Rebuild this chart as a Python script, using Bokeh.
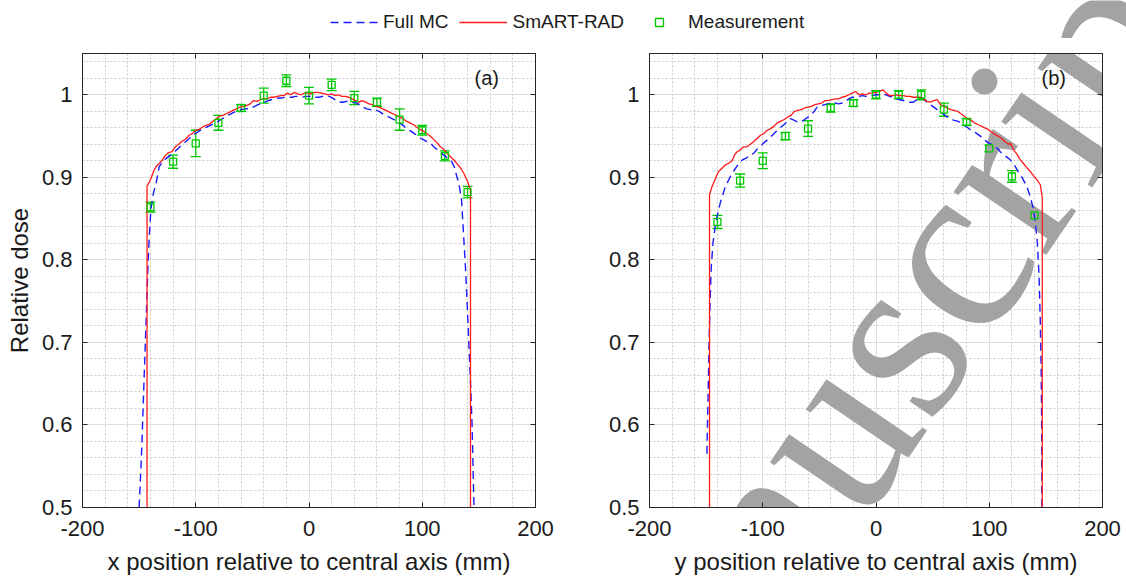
from bokeh.plotting import figure
from bokeh.models import (ColumnDataSource, Whisker, TeeHead, Range1d, FixedTicker,
                          LinearAxis, Legend, LegendItem, CustomJSTickFormatter, Label)
from bokeh.layouts import column, row
from bokeh.embed import file_html
from bokeh.resources import INLINE
from bokeh.core.properties import value

# ---------------- data ----------------
x_ticks = [-200, -100, 0, 100, 200]
y_ticks = [0.5, 0.6, 0.7, 0.8, 0.9, 1.0]
x_minor = [-200, -180, -160, -140, -120, -100, -80, -60, -40, -20, 0,
           20, 40, 60, 80, 100, 120, 140, 160, 180, 200]
y_minor = [0.5, 0.52, 0.54, 0.56, 0.58, 0.6, 0.62, 0.64, 0.66, 0.68, 0.7, 0.72, 0.74,
           0.76, 0.78, 0.8, 0.82, 0.84, 0.86, 0.88, 0.9, 0.92, 0.94, 0.96, 0.98, 1.0,
           1.02, 1.04]

meas_x = [-140, -120, -100, -80, -60, -40, -20, 0, 20, 40, 60, 80, 100, 120, 140]
meas_a = [0.864, 0.919, 0.941, 0.966, 0.984, 0.999, 1.017, 0.999, 1.012, 0.996,
          0.991, 0.970, 0.957, 0.926, 0.882]
err_a = [0.006, 0.008, 0.016, 0.009, 0.004, 0.009, 0.007, 0.010, 0.007, 0.008,
         0.005, 0.013, 0.006, 0.006, 0.007]
meas_b = [0.846, 0.896, 0.920, 0.950, 0.959, 0.984, 0.990, 1.000, 1.000, 1.000,
          0.982, 0.967, 0.935, 0.901, 0.854]
err_b = [0.008, 0.008, 0.0095, 0.0045, 0.0095, 0.005, 0.004, 0.005, 0.005, 0.006,
         0.008, 0.004, 0.004, 0.007, 0.004]

# (position mm, relative dose)
mc_a = [(-150, 0.50), (-148, 0.56), (-146.5, 0.62), (-145, 0.68), (-144, 0.72), (-143, 0.76),
        (-142, 0.80), (-141, 0.83), (-139.6, 0.861), (-137.5, 0.880), (-135, 0.893),
        (-132.3, 0.913), (-129, 0.919), (-126, 0.923), (-123, 0.926), (-120, 0.929),
        (-117, 0.933), (-114, 0.937), (-111, 0.941), (-108, 0.944), (-105, 0.948),
        (-102, 0.952), (-99, 0.954), (-96, 0.957), (-93, 0.959), (-90, 0.961), (-87, 0.963),
        (-84, 0.965), (-81, 0.967), (-78, 0.970), (-75, 0.972), (-72, 0.975), (-69, 0.977),
        (-66, 0.979), (-63, 0.980), (-60, 0.982), (-57, 0.983), (-54, 0.983), (-51, 0.984),
        (-48, 0.986), (-45, 0.988), (-42, 0.989), (-39, 0.991), (-36, 0.993), (-33, 0.994),
        (-30, 0.995), (-27, 0.996), (-24, 0.996), (-21, 0.997), (-18, 0.997), (-15, 0.997),
        (-12, 0.998), (-9, 0.998), (-6, 0.997), (-3, 0.998), (0, 0.998), (3, 0.998),
        (6, 0.997), (9, 0.997), (12, 0.998), (15, 0.998), (18, 0.998), (21, 0.996),
        (24, 0.993), (27, 0.991), (30, 0.991), (33, 0.992), (36, 0.993), (39, 0.991),
        (42, 0.990), (45, 0.988), (48, 0.985), (51, 0.983), (54, 0.982), (57, 0.981),
        (60, 0.981), (63, 0.979), (66, 0.976), (69, 0.974), (72, 0.972), (75, 0.970),
        (78, 0.967), (81, 0.965), (84, 0.962), (87, 0.958), (90, 0.956), (93, 0.953),
        (96, 0.950), (99, 0.947), (102, 0.945), (105, 0.942), (108, 0.940), (111, 0.936),
        (114, 0.933), (117, 0.929), (120, 0.926), (123, 0.922), (126, 0.919),
        (128.5, 0.912), (130.5, 0.901), (132.3, 0.893), (134.7, 0.873), (136.5, 0.83),
        (138.2, 0.79), (139.7, 0.745), (141.1, 0.70), (142.6, 0.653), (144, 0.60),
        (145.5, 0.51), (145.7, 0.50)]

rad_a = [(-143, 0.50), (-143, 0.889), (-140, 0.897), (-137, 0.908), (-135, 0.913),
         (-132, 0.917), (-130, 0.920), (-127, 0.926), (-124, 0.930), (-121, 0.931),
         (-118, 0.937), (-115, 0.940), (-112, 0.944), (-109, 0.946), (-106, 0.951),
         (-103, 0.953), (-100, 0.957), (-97, 0.958), (-94, 0.961), (-91, 0.963),
         (-88, 0.964), (-85, 0.968), (-82, 0.971), (-79, 0.974), (-76, 0.975), (-73, 0.977),
         (-70, 0.979), (-67, 0.981), (-64, 0.983), (-61, 0.985), (-58, 0.986), (-55, 0.987),
         (-52, 0.989), (-49, 0.993), (-46, 0.992), (-43, 0.994), (-40, 0.995), (-37, 0.995),
         (-34, 0.997), (-31, 0.997), (-28, 0.998), (-25, 0.999), (-22, 0.999), (-19, 1.002),
         (-16, 1.000), (-13, 1.003), (-10, 1.001), (-7, 1.000), (-4, 1.002), (-1, 1.002),
         (2, 1.001), (5, 1.003), (8, 1.003), (11, 1.002), (14, 1.001), (17, 1.000),
         (20, 1.001), (23, 0.999), (26, 1.000), (29, 0.998), (32, 0.998), (35, 0.997),
         (38, 0.995), (41, 0.993), (44, 0.991), (47, 0.993), (50, 0.991), (53, 0.989),
         (56, 0.988), (59, 0.986), (62, 0.985), (65, 0.983), (68, 0.981), (71, 0.979),
         (74, 0.977), (77, 0.975), (80, 0.973), (83, 0.971), (86, 0.968), (89, 0.966),
         (92, 0.964), (95, 0.961), (98, 0.958), (101, 0.956), (104, 0.953), (107, 0.950),
         (110, 0.946), (113, 0.942), (116, 0.937), (119, 0.934), (122, 0.929), (125, 0.925),
         (128, 0.921), (131, 0.916), (134, 0.911), (137, 0.904), (140, 0.895),
         (142.6, 0.885), (142.6, 0.50)]

mc_b = [(-149.3, 0.565), (-148.5, 0.62), (-147.5, 0.69), (-146.5, 0.75), (-145.5, 0.79),
        (-144, 0.82), (-142, 0.84), (-140.4, 0.852), (-137.5, 0.869), (-135, 0.880),
        (-133, 0.889), (-130, 0.897), (-127, 0.905), (-124, 0.911), (-121, 0.917),
        (-118, 0.921), (-115, 0.923), (-112, 0.926), (-108, 0.929), (-105, 0.934),
        (-102, 0.938), (-99, 0.942), (-96, 0.945), (-93, 0.949), (-90, 0.953), (-87, 0.957),
        (-84, 0.961), (-81, 0.964), (-78, 0.968), (-75.7, 0.971), (-72, 0.969), (-69, 0.967),
        (-66.8, 0.967), (-63, 0.970), (-60, 0.973), (-57, 0.976), (-54, 0.981), (-52, 0.985),
        (-48, 0.987), (-45, 0.988), (-42, 0.989), (-39, 0.990), (-36, 0.990), (-33, 0.989),
        (-30, 0.990), (-27, 0.992), (-24, 0.995), (-21, 0.997), (-18, 0.997), (-15, 0.998),
        (-12, 0.999), (-9, 0.998), (-6, 0.999), (-3, 0.999), (0, 1.000), (3, 1.000),
        (6, 1.000), (9, 1.000), (12, 0.998), (15, 0.997), (18, 0.995), (21, 0.994),
        (24, 0.993), (27, 0.992), (30, 0.991), (33, 0.991), (36, 0.994), (39, 0.997),
        (42, 0.995), (45, 0.991), (48, 0.988), (51, 0.985), (54, 0.982), (57, 0.979),
        (60, 0.976), (63, 0.973), (66, 0.971), (69, 0.969), (72, 0.968), (75, 0.966),
        (78, 0.963), (81, 0.960), (84, 0.957), (87, 0.955), (90, 0.952), (93, 0.949),
        (96, 0.945), (99, 0.942), (102, 0.940), (105, 0.937), (108, 0.934), (111, 0.929),
        (114, 0.926), (117, 0.923), (120, 0.919), (123, 0.913), (126, 0.906), (129, 0.900),
        (132, 0.892), (134.5, 0.884), (137, 0.872), (139.2, 0.861), (140.7, 0.845),
        (142.5, 0.82), (144, 0.78), (145, 0.73), (145.8, 0.67), (146.3, 0.60), (146.5, 0.50)]

rad_b = [(-147, 0.50), (-147, 0.879), (-145, 0.888), (-143.4, 0.893), (-141, 0.901),
         (-139, 0.907), (-136, 0.911), (-133, 0.915), (-130, 0.917), (-127, 0.920),
         (-125, 0.927), (-122.7, 0.931), (-120, 0.933), (-117, 0.937), (-114, 0.937),
         (-111, 0.940), (-108, 0.943), (-105, 0.947), (-102, 0.951), (-99, 0.953),
         (-96, 0.957), (-93, 0.959), (-90, 0.962), (-87, 0.966), (-84, 0.968), (-81, 0.970),
         (-78, 0.973), (-75, 0.975), (-72, 0.980), (-69, 0.981), (-66, 0.982), (-63, 0.984),
         (-60, 0.985), (-57, 0.986), (-54, 0.988), (-51, 0.989), (-48, 0.990), (-45, 0.993),
         (-42, 0.993), (-39, 0.994), (-36, 0.995), (-33, 0.995), (-30, 0.997), (-27, 0.998),
         (-24, 1.000), (-21, 1.002), (-18, 1.004), (-15, 1.000), (-12, 1.001), (-9, 1.000),
         (-6, 1.002), (-3, 1.002), (0, 1.003), (3, 1.004), (6, 1.006), (9, 1.002),
         (12, 0.999), (15, 0.999), (18, 1.000), (21, 0.999), (24, 0.999), (27, 0.998),
         (30, 0.998), (33, 0.997), (36, 0.997), (39, 0.997), (42, 0.995), (45, 0.992),
         (48, 0.991), (51, 0.993), (54, 0.994), (57, 0.988), (60, 0.986), (63, 0.984),
         (66, 0.982), (69, 0.981), (72, 0.980), (75, 0.977), (78, 0.974), (81, 0.971),
         (84, 0.969), (87, 0.966), (90, 0.964), (93, 0.962), (96, 0.960), (99, 0.958),
         (102, 0.955), (105, 0.952), (108, 0.950), (111, 0.947), (114, 0.943), (117, 0.940),
         (119, 0.941), (121.5, 0.933), (124, 0.929), (127, 0.922), (130, 0.917),
         (133, 0.912), (136.3, 0.907), (139, 0.902), (142.2, 0.897), (145.1, 0.891),
         (146.8, 0.875), (146.8, 0.50)]

series_names = ["Full MC", "SmART-RAD", "Measurement"]
panel_tags = ["(a)", "(b)"]
x_labels = ["x position relative to central axis (mm)", "y position relative to central axis (mm)"]
y_label = "Relative dose"
watermark_text = "Manuscript"

# ---------------- style ----------------
BLUE = "#1a1aff"
RED = "#ff1a1a"
GREEN = "#00c800"
AX = "#262626"
FONT = "Liberation Sans"
WM_COLOR = "#a3a3a3"
WM_SIZE = "244px"
WM_ANGLE = 55.8
WM_PAGE = (541.0, 853.0)   # page pixel of the watermark anchor

PANEL_H = 539
STRIP_H = 38
BORDER_TOP = 15
FRAME_H = 455

y_fmt = CustomJSTickFormatter(code="return (Math.round(tick*10)/10).toString();")
x_fmt = CustomJSTickFormatter(code="return tick.toFixed(0);")


def make_panel(width, border_left, border_right, mc, rad, my, me, tag, xlabel, ylabel):
    p = figure(width=width, height=PANEL_H, x_range=Range1d(-200, 200), y_range=Range1d(0.5, 1.05),
               output_backend="svg", toolbar_location=None,
               min_border_left=border_left, min_border_right=border_right,
               min_border_top=BORDER_TOP, min_border_bottom=PANEL_H - BORDER_TOP - FRAME_H)
    p.background_fill_color = "white"
    p.border_fill_color = "white"
    p.outline_line_color = AX
    p.outline_line_width = 1

    p.xaxis.ticker = FixedTicker(ticks=x_ticks, minor_ticks=x_minor)
    p.yaxis.ticker = FixedTicker(ticks=y_ticks, minor_ticks=y_minor)
    p.xaxis.formatter = x_fmt
    p.yaxis.formatter = y_fmt
    for ax in (p.xaxis[0], p.yaxis[0]):
        ax.level = "annotation"
        ax.axis_line_color = AX
        ax.major_tick_line_color = AX
        ax.major_tick_in = 5
        ax.major_tick_out = 0
        ax.minor_tick_in = 0
        ax.minor_tick_out = 0
        ax.major_label_text_font = FONT
        ax.major_label_text_font_size = "22px"
        ax.major_label_text_color = "#1a1a1a"
        ax.axis_label_text_font = FONT
        ax.axis_label_text_font_size = "24px"
        ax.axis_label_text_font_style = "normal"
        ax.axis_label_text_color = "#1a1a1a"
    p.xaxis.major_label_standoff = 13
    p.xaxis.axis_label_standoff = 9
    p.yaxis.major_label_standoff = 10
    p.yaxis.axis_label_standoff = 6
    p.xaxis.axis_label = xlabel
    if ylabel:
        p.yaxis.axis_label = ylabel

    # mirrored tick marks on top and right (labels not drawn)
    for loc, tk in (("above", FixedTicker(ticks=x_ticks)), ("right", FixedTicker(ticks=y_ticks))):
        ax2 = LinearAxis(ticker=tk, major_label_text_font_size="1px", major_label_text_color=None,
                         major_label_standoff=0, level="annotation",
                         major_tick_in=5, major_tick_out=0, minor_tick_in=0, minor_tick_out=0,
                         axis_line_color=AX, major_tick_line_color=AX)
        p.add_layout(ax2, loc)

    p.grid.level = "image"
    p.grid.grid_line_color = "#dedede"
    p.grid.grid_line_width = 1
    p.grid.minor_grid_line_color = "#cccccc"
    p.grid.minor_grid_line_dash = "2 2"
    p.grid.minor_grid_line_width = 1

    mcx = [v[0] for v in mc]
    mcy = [v[1] for v in mc]
    rx = [v[0] for v in rad]
    ry = [v[1] for v in rad]
    p.line(mcx, mcy, line_color=BLUE, line_width=1.4, line_dash="8 5", level="annotation")
    p.line(rx, ry, line_color=RED, line_width=1.3, level="annotation")

    src = ColumnDataSource(dict(x=meas_x, y=my,
                                lo=[a - b for a, b in zip(my, me)],
                                hi=[a + b for a, b in zip(my, me)]))
    wk = Whisker(source=src, base="x", upper="hi", lower="lo", line_color=GREEN, line_width=1.3,
                 upper_head=TeeHead(size=10, line_color=GREEN, line_width=1.3),
                 lower_head=TeeHead(size=10, line_color=GREEN, line_width=1.3))
    p.add_layout(wk)
    p.scatter("x", "y", source=src, marker="square", size=7, line_color=GREEN,
              fill_color=None, line_width=1.3, level="annotation")

    p.text(x=[157], y=[1.02], text=[tag], text_align="center", text_baseline="middle",
           text_font=value(FONT), text_font_size="20px", text_color="#1a1a1a",
           level="annotation")
    return p


pa = make_panel(565, 82, 30, mc_a, rad_a, meas_a, err_a, panel_tags[0], x_labels[0], y_label)
pb = make_panel(561, 84, 24, mc_b, rad_b, meas_b, err_b, panel_tags[1], x_labels[1], None)

# watermark in panel (b): convert page pixel to panel (b) data coordinates
fl = 565 + 84                        # frame left of panel (b) on the page
fb = STRIP_H + BORDER_TOP + FRAME_H  # frame bottom on the page
wx = -200 + (WM_PAGE[0] - fl) * 400.0 / 453.0
wy = 0.5 - (WM_PAGE[1] - fb) * 0.55 / FRAME_H
pb.add_layout(Label(x=wx, y=wy, text=watermark_text, angle=WM_ANGLE, angle_units="deg",
                    text_font="Liberation Serif", text_font_size=WM_SIZE, text_color=WM_COLOR,
                    text_align="left", text_baseline="alphabetic", level="guide"))

# legend strip (dummy renderers lie outside the visible range)
lf = figure(width=1126, height=STRIP_H, x_range=Range1d(0, 1), y_range=Range1d(0, 1),
            output_backend="svg", toolbar_location=None, min_border=0)
lf.axis.visible = False
lf.grid.visible = False
lf.outline_line_color = None
lf.add_layout(Label(x=WM_PAGE[0] / 1126.0, y=1 - WM_PAGE[1] / STRIP_H, text=watermark_text,
                    angle=WM_ANGLE, angle_units="deg", text_font="Liberation Serif",
                    text_font_size=WM_SIZE, text_color=WM_COLOR, text_align="left",
                    text_baseline="alphabetic", level="guide"))
r1 = lf.line(x=[5, 6], y=[5, 5], line_color=BLUE, line_width=1.4, line_dash="8 5")
r2 = lf.line(x=[5, 6], y=[5, 5], line_color=RED, line_width=1.3)
r3 = lf.scatter(x=[5], y=[5], marker="square", size=7, line_color=GREEN, fill_color=None,
                line_width=1.3)
leg = Legend(items=[LegendItem(label=series_names[0], renderers=[r1]),
                    LegendItem(label=series_names[1], renderers=[r2]),
                    LegendItem(label=series_names[2], renderers=[r3])],
             orientation="horizontal", location=(330, 5), glyph_width=48, glyph_height=20,
             label_standoff=5, spacing=11, padding=0, margin=0,
             border_line_color=None, background_fill_alpha=0,
             label_text_font=FONT, label_text_font_size="19px", label_text_color="#1a1a1a")
lf.add_layout(leg)

layout = column(lf, row(pa, pb))
open("out.html", "w").write(file_html(layout, INLINE))
